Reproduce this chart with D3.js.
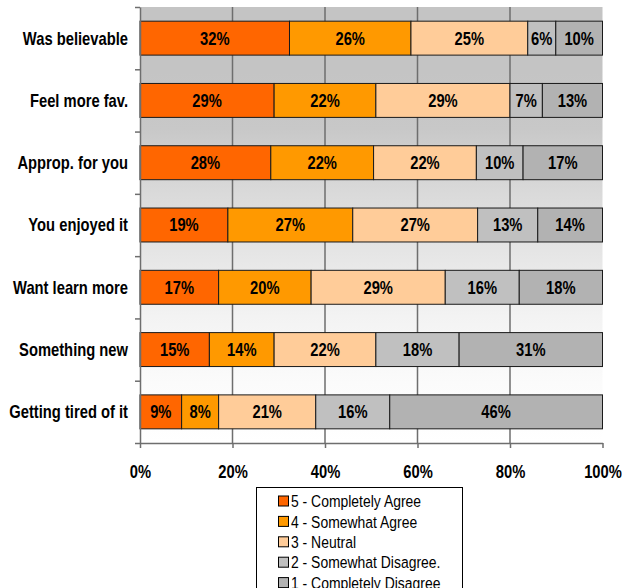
<!DOCTYPE html>
<html>
<head>
<meta charset="utf-8">
<script src="https://cdn.jsdelivr.net/npm/d3@7"></script>
<style>
  html, body { margin: 0; padding: 0; background: #fff; }
  svg { display: block; }
  text { font-family: "Liberation Sans", Arial, sans-serif; }
</style>
</head>
<body>
<svg id="chart" width="622" height="588"></svg>
<script>
// Survey statements, top to bottom
const categories = [
  "Was believable",
  "Feel more fav.",
  "Approp. for you",
  "You enjoyed it",
  "Want learn more",
  "Something new",
  "Getting tired of it"
];

// Response levels (legend order) and their shares in percent, per statement
const seriesNames = [
  "5 - Completely Agree",
  "4 - Somewhat Agree",
  "3 - Neutral",
  "2 - Somewhat Disagree.",
  "1 - Completely Disagree"
];
const completelyAgree    = [32, 29, 28, 19, 17, 15, 9];
const somewhatAgree      = [26, 22, 22, 27, 20, 14, 8];
const neutral            = [25, 29, 22, 27, 29, 22, 21];
const somewhatDisagree   = [6, 7, 10, 13, 16, 18, 16];
const completelyDisagree = [10, 13, 17, 14, 18, 31, 46];

const seriesColors = ["#ff6600", "#ff9900", "#ffcc99", "#c0c0c0", "#b2b2b2"];
const xTicks = [0, 0.2, 0.4, 0.6, 0.8, 1];

const seriesValues = [completelyAgree, somewhatAgree, neutral, somewhatDisagree, completelyDisagree];
const rows = categories.map((c, i) => {
  const r = { category: c };
  seriesNames.forEach((s, j) => { r[s] = seriesValues[j][i]; });
  return r;
});

// 100% stacked layout
const stacked = d3.stack()
  .keys(seriesNames)
  .offset(d3.stackOffsetExpand)(rows);

const svg = d3.select("#chart");
const plotLeft = 140, plotRight = 602.5, plotTop = 7, plotBottom = 443;
const narrow = 0.82; // horizontal squeeze for a narrow sans look

const x = d3.scaleLinear().domain([0, 1]).range([plotLeft, plotRight]);
const y = d3.scaleBand().domain(categories).range([plotTop, plotBottom])
  .paddingInner(0.455).paddingOuter(0.2275);
const color = d3.scaleOrdinal().domain(seriesNames).range(seriesColors);

// Plot background: grey at the top fading to white
const defs = svg.append("defs");
const grad = defs.append("linearGradient").attr("id", "bg")
  .attr("x1", 0).attr("y1", 0).attr("x2", 0).attr("y2", 1);
[[0, "#c4c4c4"], [0.15, "#c4c4c4"], [0.28, "#c8c8c8"], [0.43, "#dadada"],
 [0.57, "#e6e6e6"], [0.71, "#f3f3f3"], [0.86, "#fbfbfb"], [1, "#ffffff"]]
  .forEach(([o, c]) => grad.append("stop").attr("offset", o).attr("stop-color", c));

svg.append("rect")
  .attr("x", plotLeft).attr("y", plotTop)
  .attr("width", plotRight - plotLeft).attr("height", plotBottom - plotTop)
  .attr("fill", "url(#bg)");

// Vertical gridlines
svg.append("g").selectAll("line")
  .data(xTicks.filter(t => t > 0 && t < 1))
  .join("line")
  .attr("x1", d => x(d)).attr("x2", d => x(d))
  .attr("y1", plotTop).attr("y2", plotBottom)
  .attr("stroke", "#6e6e6e").attr("stroke-width", 1.5);

// Bars
const layers = svg.append("g").selectAll("g")
  .data(stacked)
  .join("g")
  .attr("fill", d => color(d.key));

layers.selectAll("rect")
  .data(d => d)
  .join("rect")
  .attr("x", d => x(d[0]))
  .attr("y", d => y(d.data.category))
  .attr("width", d => x(d[1]) - x(d[0]))
  .attr("height", y.bandwidth())
  .attr("stroke", "#1a1a1a")
  .attr("stroke-width", 1);

// Value labels
layers.each(function(layer) {
  d3.select(this).selectAll("text")
    .data(layer)
    .join("text")
    .attr("transform", d => `translate(${(x(d[0]) + x(d[1])) / 2},${y(d.data.category) + y.bandwidth() / 2}) scale(${narrow},1)`)
    .attr("dy", "0.36em")
    .attr("text-anchor", "middle")
    .attr("font-size", 18)
    .attr("font-weight", "bold")
    .attr("fill", "#000")
    .text(d => d.data[layer.key] + "%");
});

// Y axis with ticks between categories
const yEdges = d3.scaleLinear().domain([0, categories.length]).range([plotTop, plotBottom]);
const yAxis = svg.append("g")
  .attr("transform", `translate(${plotLeft},0)`)
  .call(d3.axisLeft(yEdges).tickValues(d3.range(categories.length + 1)).tickFormat("").tickSize(5).tickSizeOuter(0));
yAxis.selectAll("path, line").attr("stroke", "#6e6e6e").attr("stroke-width", 1.5);

// Category labels
svg.append("g").selectAll("text")
  .data(categories)
  .join("text")
  .attr("transform", d => `translate(128,${y(d) + y.bandwidth() / 2}) scale(${narrow},1)`)
  .attr("dy", "0.36em")
  .attr("text-anchor", "end")
  .attr("font-size", 18)
  .attr("font-weight", "bold")
  .attr("fill", "#000")
  .text(d => d);

// X axis
const xAxis = svg.append("g")
  .attr("transform", `translate(0,${plotBottom})`)
  .call(d3.axisBottom(x).tickValues(xTicks).tickFormat(d3.format(".0%")).tickSize(5).tickSizeOuter(0));
xAxis.attr("font-family", null).attr("font-size", null);
xAxis.selectAll("path, line").attr("stroke", "#6e6e6e").attr("stroke-width", 1.5);
xAxis.selectAll("text")
  .attr("y", null)
  .attr("dy", "0.71em")
  .attr("transform", `translate(0,22) scale(${narrow},1)`)
  .attr("font-size", 18)
  .attr("font-weight", "bold")
  .attr("fill", "#000");

// Legend
const legend = svg.append("g");
legend.append("rect")
  .attr("x", 256.5).attr("y", 487.5)
  .attr("width", 206).attr("height", 120)
  .attr("fill", "#fff").attr("stroke", "#000").attr("stroke-width", 1);

const items = legend.selectAll("g.item")
  .data(seriesNames)
  .join("g")
  .attr("class", "item")
  .attr("transform", (d, i) => `translate(0,${501 + i * 20.4})`);
items.append("rect")
  .attr("x", 278.5).attr("y", -5)
  .attr("width", 10).attr("height", 10)
  .attr("fill", d => color(d))
  .attr("stroke", "#000").attr("stroke-width", 1);
items.append("text")
  .attr("transform", `translate(291,0) scale(${narrow},1)`)
  .attr("dy", "0.36em")
  .attr("font-size", 17)
  .attr("fill", "#000")
  .text(d => d);
</script>
</body>
</html>
